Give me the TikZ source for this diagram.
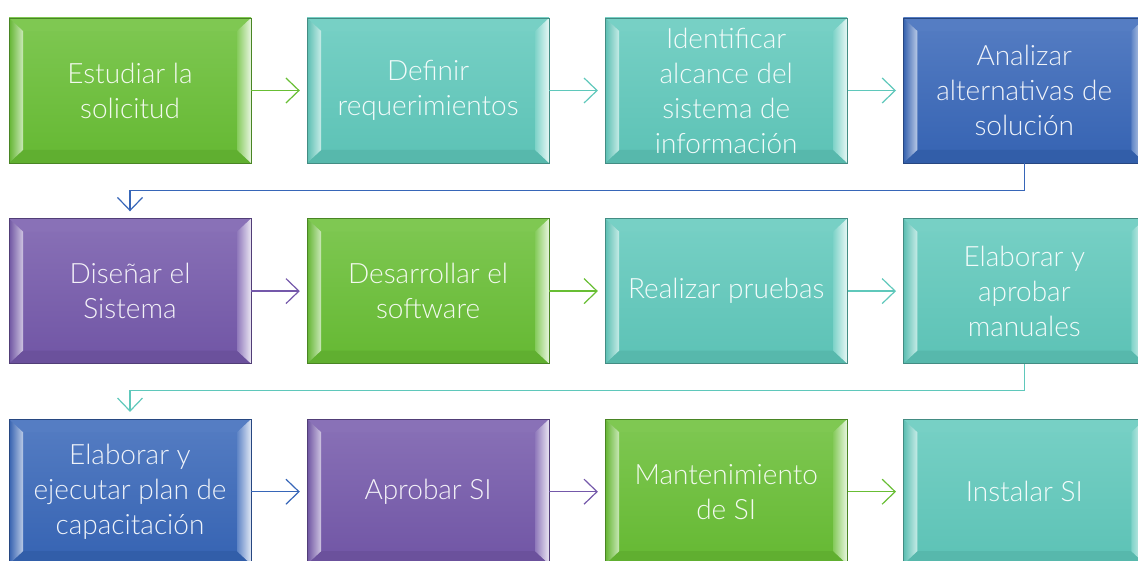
\documentclass[tikz,border=0pt]{standalone}
\usepackage{fontspec}
\setmainfont{Lato Light}
\usetikzlibrary{positioning,arrows.meta}

\definecolor{sgreen}{HTML}{68BE34}
\definecolor{steal}{HTML}{5FC8BB}
\definecolor{sblue}{HTML}{3766B8}
\definecolor{spurple}{HTML}{7458AA}

% bevel of a stage box, drawn inside its path picture
\newcommand{\bevel}[1]{%
	\path (path picture bounding box.north west) coordinate (bnw)
	      (path picture bounding box.south east) coordinate (bse);
	\path (bse |- bnw) coordinate (bne) (bnw |- bse) coordinate (bsw);
	\path ([shift={(14pt,-13pt)}]bnw) coordinate (inw)
	      ([shift={(-14pt,13pt)}]bse) coordinate (ise);
	\path (ise |- inw) coordinate (ine) (inw |- ise) coordinate (isw);
	\fill[#1!85!white] (bnw) -- (bne) -- (ine) -- (inw) -- cycle;
	\fill[#1!92!black] (bsw) -- (bse) -- (ise) -- (isw) -- cycle;
	\shade[left color=#1!95!black, right color=#1!35!white] (bnw) -- (inw) -- (isw) -- (bsw) -- cycle;
	\shade[left color=#1!80!white, right color=#1!15!white] (bne) -- (ine) -- (ise) -- (bse) -- cycle;
}

\begin{document}
\begin{tikzpicture}[x=1pt, y=1pt, node distance=55pt and 55.5pt,
	stage/.style={minimum width=242pt, minimum height=145pt, inner sep=0pt, align=center,
		draw=#1!70!black, line width=0.6pt, top color=#1!85!white, bottom color=#1!97!black,
		path picture={\bevel{#1}}, text=white!92!#1, font=\fontsize{28}{35}\selectfont},
	flow/.style={draw=#1, line width=1.2pt, shorten >=7pt,
		-{Straight Barb[length=13pt, width=25pt]}}]
	\useasboundingbox (0,0) rectangle (1138,560);

	% first row
	\node[stage=sgreen] (est) at (130,469.5) {Estudiar la\\solicitud};
	\node[stage=steal, right=of est] (def) {Definir\\requerimientos};
	\node[stage=steal, right=of def] (ide) {Identificar\\alcance del\\sistema de\\información};
	\node[stage=sblue, right=of ide] (ana) {Analizar\\alternativas de\\solución};

	% second row
	\node[stage=spurple, below=of est] (dis) {Diseñar el\\Sistema};
	\node[stage=sgreen, right=of dis] (des) {Desarrollar el\\software};
	\node[stage=steal, right=of des] (pru) {Realizar pruebas};
	\node[stage=steal, right=of pru] (man) {Elaborar y\\aprobar\\manuales};

	% third row
	\node[stage=sblue, below=of dis] (cap) {Elaborar y\\ejecutar plan de\\capacitación};
	\node[stage=spurple, right=of cap] (apr) {Aprobar SI};
	\node[stage=sgreen, right=of apr] (mnt) {Mantenimiento\\de SI};
	\node[stage=steal, right=of mnt] (ins) {Instalar SI};

	\draw[flow=sgreen] (est) -- (def);
	\draw[flow=steal] (def) -- (ide);
	\draw[flow=steal] (ide) -- (ana);
	\draw[flow=sblue] (ana.south) -- ++(0,-27) -| (dis.north);

	\draw[flow=spurple] (dis) -- (des);
	\draw[flow=sgreen] (des) -- (pru);
	\draw[flow=steal] (pru) -- (man);
	\draw[flow=steal] (man.south) -- ++(0,-27) -| (cap.north);

	\draw[flow=sblue] (cap) -- (apr);
	\draw[flow=spurple] (apr) -- (mnt);
	\draw[flow=sgreen] (mnt) -- (ins);
\end{tikzpicture}
\end{document}
